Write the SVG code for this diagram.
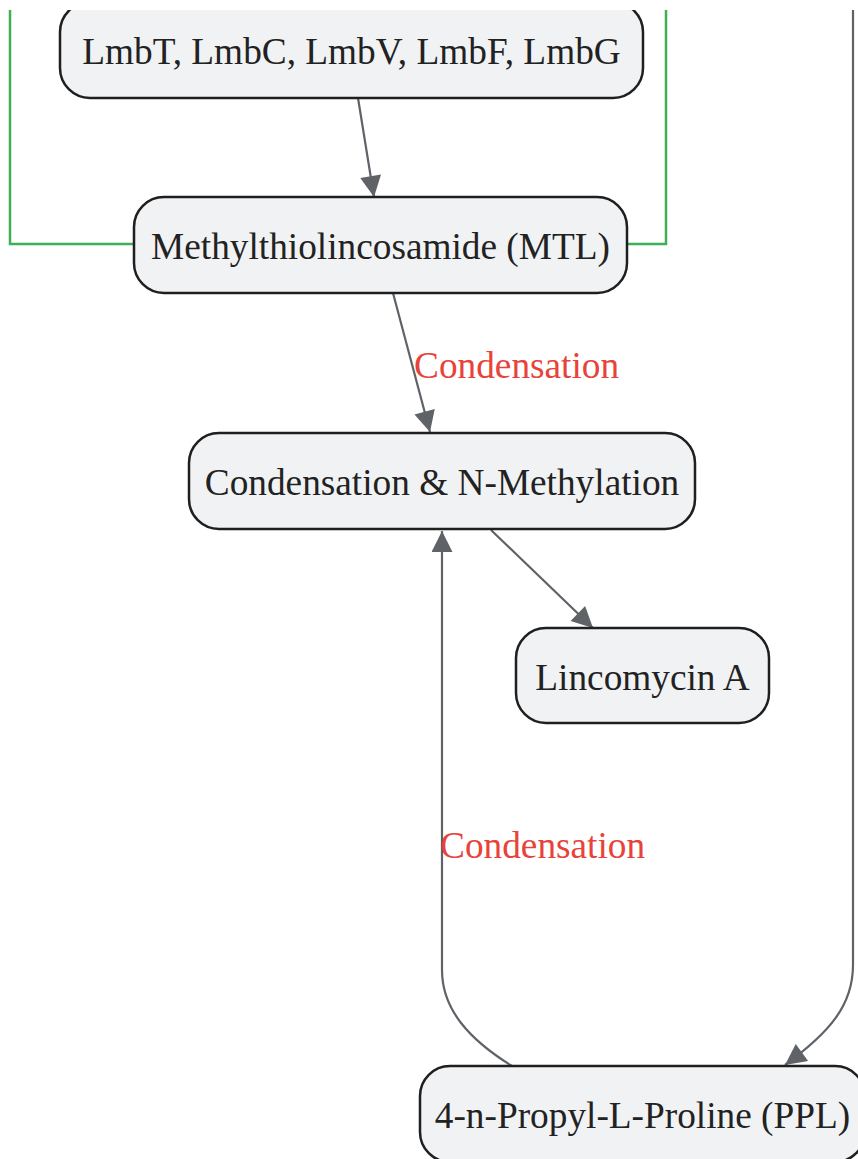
<svg xmlns="http://www.w3.org/2000/svg" width="858" height="1159" viewBox="0 0 858 1159">
<style>
.node rect{fill:#f1f2f4;stroke:#1f1f1f;stroke-width:2.5}
.node text{font-family:"Liberation Serif","Times New Roman",serif;font-size:37.3px;fill:#222;text-anchor:middle}
.edge{fill:none;stroke:#5f6368;stroke-width:2.2}
.green{fill:none;stroke:#3cb054;stroke-width:2.5}
.lbl{font-family:"Liberation Serif","Times New Roman",serif;font-size:37.3px;fill:#e8433a}
</style>
<defs>
<marker id="ah" viewBox="0 0 10 10" refX="10" refY="5" markerWidth="24" markerHeight="21" markerUnits="userSpaceOnUse" orient="auto">
<path d="M0,0 L10,5 L0,10 z" fill="#5f6368"/>
</marker>
<clipPath id="cp"><rect x="0" y="10" width="858" height="1149"/></clipPath>
</defs>
<rect width="858" height="1159" fill="#fff"/>
<g clip-path="url(#cp)">
<g id="connectors">
<path class="green" d="M10,10 L10,244 L134,244"/>
<path class="green" d="M666,10 L666,244 L627,244"/>
<path class="edge" d="M853,10 L853,965 C853,1005 830,1032 785,1065" marker-end="url(#ah)"/>
<path class="edge" d="M358,98 L374,197" marker-end="url(#ah)"/>
<path class="edge" d="M393,293 L430,432" marker-end="url(#ah)"/>
<path class="edge" d="M491,530 L593,628" marker-end="url(#ah)"/>
<path class="edge" d="M512,1066 C470,1040 442,1010 442,970 L442,531" marker-end="url(#ah)"/>
<text class="lbl" x="414" y="378">Condensation</text>
<text class="lbl" x="440" y="858">Condensation</text>
</g>
<g id="n-lmb" class="node"><rect x="60" y="2" width="583" height="96" rx="30"/><text x="351.5" y="64">LmbT, LmbC, LmbV, LmbF, LmbG</text></g>
<g id="n-mtl" class="node"><rect x="134" y="197" width="493" height="96" rx="30"/><text x="380.5" y="259">Methylthiolincosamide (MTL)</text></g>
<g id="n-cond" class="node"><rect x="189" y="433" width="506" height="96" rx="30"/><text x="442" y="495">Condensation &amp; N-Methylation</text></g>
<g id="n-linc" class="node"><rect x="516" y="628" width="253" height="95" rx="30"/><text x="642.5" y="690">Lincomycin A</text></g>
<g id="n-ppl" class="node"><rect x="420" y="1066" width="445" height="96" rx="30"/><text x="642.5" y="1128">4-n-Propyl-L-Proline (PPL)</text></g>
</g>
</svg>
